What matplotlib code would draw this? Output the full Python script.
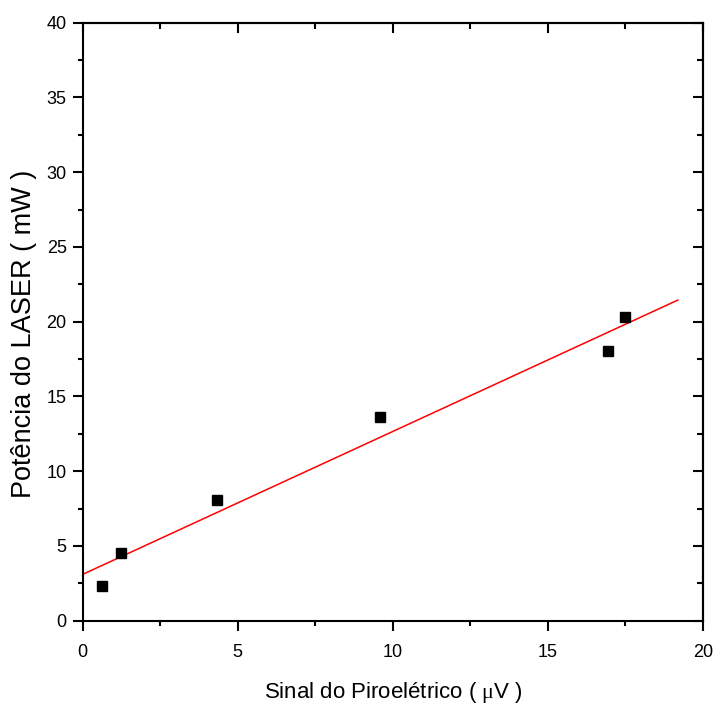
import matplotlib
matplotlib.use("Agg")
import matplotlib.pyplot as plt
from matplotlib.ticker import MultipleLocator

plt.rcParams['font.family'] = ['Liberation Sans', 'DejaVu Sans']
plt.rcParams['mathtext.fontset'] = 'custom'
plt.rcParams['mathtext.rm'] = 'Liberation Serif'
plt.rcParams['mathtext.it'] = 'Liberation Serif:italic'

# Data
sinal_uV = [0.61, 1.24, 4.33, 9.60, 16.95, 17.48]
potencia_mW = [2.32, 4.55, 8.07, 13.65, 18.04, 20.33]
fit_x = [0.0, 19.19]
fit_y = [3.10, 21.45]

x_ticks = [0, 5, 10, 15, 20]
y_ticks = [0, 5, 10, 15, 20, 25, 30, 35, 40]

fig = plt.figure(figsize=(7.13, 7.06), dpi=100)
ax = fig.add_axes([0.116, 0.1208, 0.870, 0.847])

ax.plot(fit_x, fit_y, color='#ff0000', lw=1.1, zorder=2)
ax.plot(sinal_uV, potencia_mW, 's', color='black', ms=6.5, zorder=3)

ax.set_xlim(0, 20)
ax.set_ylim(0, 40)
ax.set_xticks(x_ticks)
ax.set_yticks(y_ticks)
ax.xaxis.set_minor_locator(MultipleLocator(2.5))
ax.yaxis.set_minor_locator(MultipleLocator(2.5))

for s in ax.spines.values():
    s.set_linewidth(1.5)

ax.tick_params(which='both', direction='out', width=1.5, labelsize=13,
               top=False, right=False)
ax.tick_params(which='major', length=7.5)
ax.tick_params(which='minor', length=3.8)
ax.tick_params(axis='x', which='major', pad=9)
ax.tick_params(axis='y', which='major', pad=4)

# mirrored inward ticks on top and right
axt = ax.secondary_xaxis('top')
axt.set_xticks(x_ticks)
axt.xaxis.set_minor_locator(MultipleLocator(2.5))
axt.tick_params(which='both', direction='in', width=1.5, labeltop=False)
axt.tick_params(which='major', length=7.5)
axt.tick_params(which='minor', length=4)
axr = ax.secondary_yaxis('right')
axr.set_yticks(y_ticks)
axr.yaxis.set_minor_locator(MultipleLocator(2.5))
axr.tick_params(which='both', direction='in', width=1.5, labelright=False)
axr.tick_params(which='major', length=7.5)
axr.tick_params(which='minor', length=4)
axt.spines['top'].set_linewidth(1.5)
axr.spines['right'].set_linewidth(1.5)

ax.set_xlabel('Sinal do Piroelétrico ( $\\mathrm{\\mu}$V )', fontsize=16, labelpad=14)
ax.set_ylabel('Potência do LASER ( mW )', fontsize=19.5)
ax.yaxis.set_label_coords(-0.073, 0.479)

fig.savefig('out.png', dpi=100)
